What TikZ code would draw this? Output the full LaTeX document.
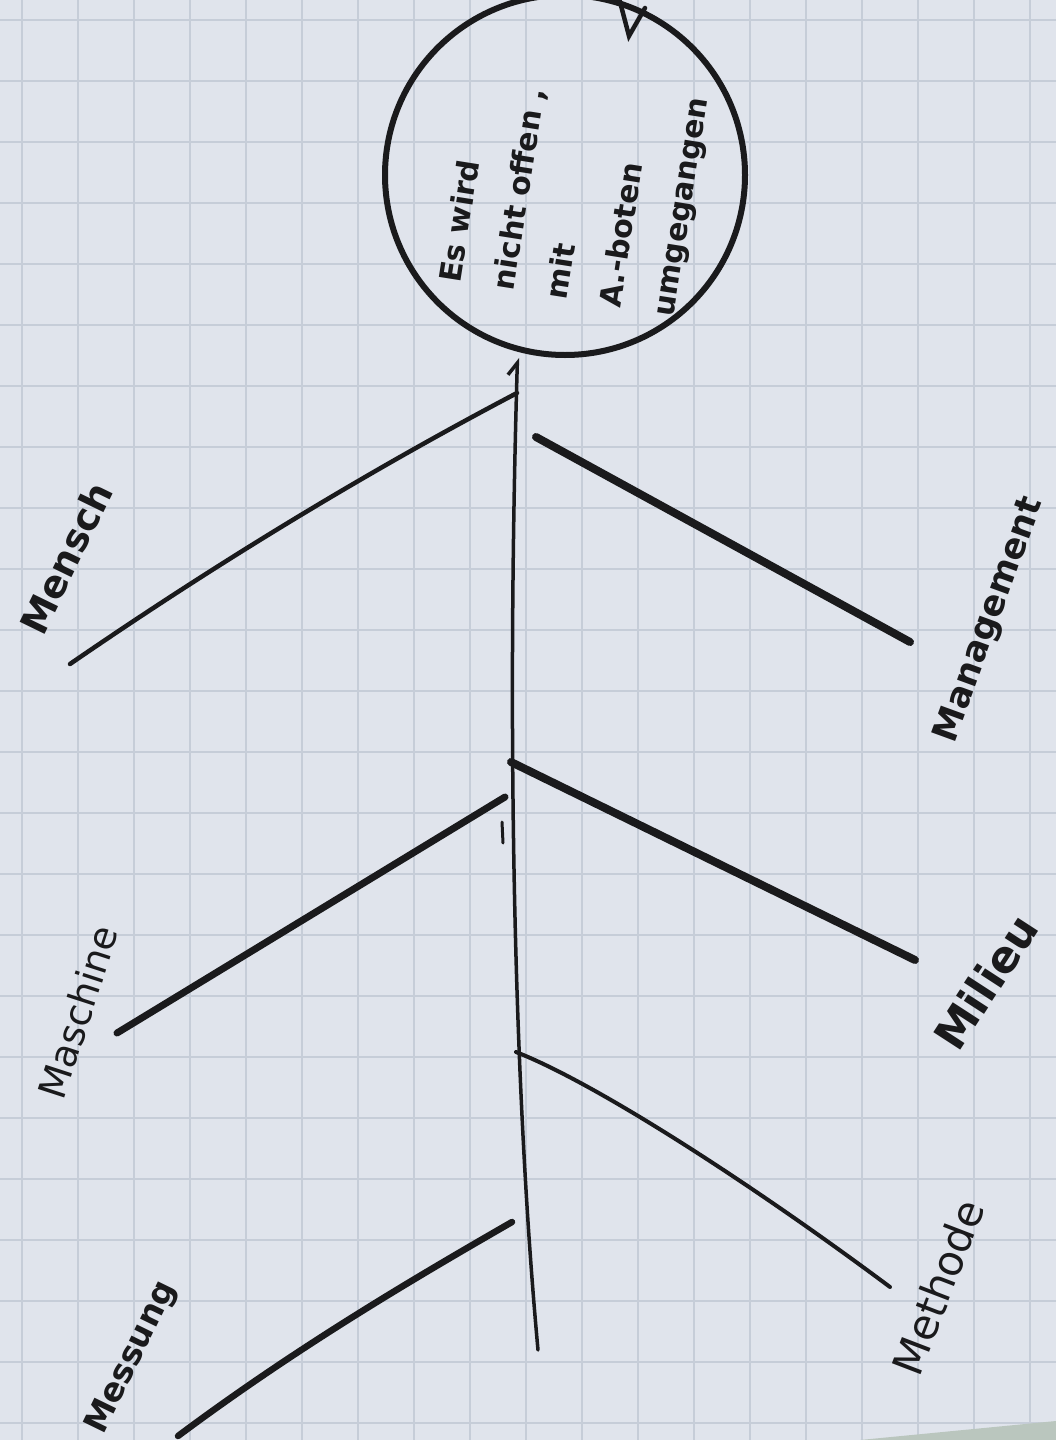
\documentclass[tikz,border=0pt]{standalone}
\usepackage{fontspec}
\setmainfont{DejaVu Sans}
\usepackage{xcolor}
\usepackage{tikz}
\usetikzlibrary{arrows.meta, shapes.geometric}

\definecolor{paper}{RGB}{224,228,236}
\definecolor{gridline}{RGB}{198,205,216}
\definecolor{ink}{RGB}{26,26,28}
\definecolor{desk}{RGB}{186,198,190}

\begin{document}
\begin{tikzpicture}[x=1pt, y=-1pt,
    bone/.style={draw=ink, line cap=round},
    cause/.style={text=ink, inner sep=0pt, font=\bfseries\fontsize{#1}{#1}\selectfont},
    causethin/.style={text=ink, inner sep=0pt, font=\fontsize{#1}{#1}\selectfont}]
      \clip (0,0) rectangle (1056,1440);
      \fill[paper] (0,0) rectangle (1056,1440);
      \foreach \gx in {22,78,...,1030}
        \draw[gridline, line width=1.2pt] (\gx,0) -- (\gx,1440);
      \foreach \gy in {20,81,...,1423}
        \draw[gridline, line width=1.2pt] (0,\gy) -- (1056,\gy);
      \fill[desk] (860,1440) -- (1056,1421) -- (1056,1440) -- cycle;

      \node[circle, draw=ink, line width=6pt, minimum size=360pt, inner sep=0pt] (head) at (565,175) {};
      \node[rotate=81, align=left, text=ink, font=\bfseries\fontsize{30}{54}\selectfont] (headtext) at (576,190) {Es wird\\ nicht offen ,\\ mit\\ A.-boten\\ umgegangen};
      \draw[bone, line width=4.5pt] (619,-2) -- (629,36) -- (645,8);

      \node[cause=38, rotate=64] (mensch) at (66,558) {Mensch};
      \node[cause=35, rotate=70] (management) at (990,620) {Management};
      \node[causethin=38, rotate=72] (maschine) at (78,1012) {Maschine};
      \node[cause=44, rotate=57] (milieu) at (986,982) {Milieu};
      \node[cause=33, rotate=64] (messung) at (132,1358) {Messung};
      \node[causethin=42, rotate=69] (methode) at (938,1287) {Methode};

      \coordinate (tail) at (538,1350);
      \coordinate (mensch-in) at (517,393);
      \coordinate (mensch-end) at (70,664);
      \coordinate (management-in) at (536,437);
      \coordinate (management-end) at (910,642);
      \coordinate (maschine-in) at (505,797);
      \coordinate (maschine-end) at (117,1033);
      \coordinate (milieu-in) at (511,762);
      \coordinate (milieu-end) at (915,960);
      \coordinate (messung-in) at (512,1222);
      \coordinate (messung-end) at (178,1436);
      \coordinate (methode-in) at (516,1052);
      \coordinate (methode-end) at (890,1287);

      \draw[bone, line width=3.5pt, -{Straight Barb[left, length=12pt, width=18pt]}, shorten >=6pt]
        (tail) .. controls (515,1100) and (506,750) .. (head.-105);
      \draw[bone, line width=4.5pt] (mensch-in) .. controls (363,474) and (214,565) .. (mensch-end);
      \draw[bone, line width=8pt] (management-in) -- (management-end);
      \draw[bone, line width=7pt] (maschine-in) -- (maschine-end);
      \draw[bone, line width=8pt] (milieu-in) -- (milieu-end);
      \draw[bone, line width=6.5pt] (messung-in) .. controls (420,1275) and (300,1345) .. (messung-end);
      \draw[bone, line width=4pt] (methode-in) .. controls (600,1085) and (760,1190) .. (methode-end);
      \draw[bone, line width=3pt] (502,822) -- (503,843);
    \end{tikzpicture}
\end{document}
